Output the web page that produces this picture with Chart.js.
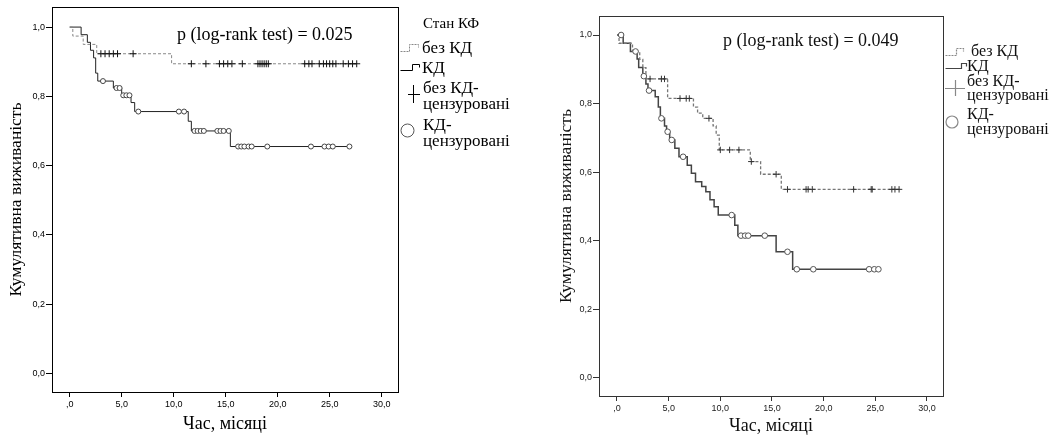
<!DOCTYPE html>
<html><head><meta charset="utf-8">
<script src="https://cdn.jsdelivr.net/npm/chart.js@4.4.1/dist/chart.umd.min.js"></script>
<style>
html,body{margin:0;padding:0;background:#fff;}
body{width:1060px;height:435px;position:relative;overflow:hidden;font-family:"Liberation Serif","Times New Roman",serif;color:#000;}
.cv{position:absolute;top:0;height:435px;}
#w1{left:0;width:540px;}
#w2{left:540px;width:520px;}
.t{position:absolute;white-space:nowrap;line-height:18px;height:18px;}
svg{position:absolute;left:0;top:0;pointer-events:none;}
</style></head><body>
<div id="w1" class="cv"><canvas id="c1" width="540" height="435"></canvas></div>
<div id="w2" class="cv"><canvas id="c2" width="520" height="435"></canvas></div>

<div class="t" style="left:177px;top:25px;font-size:18px;">p (log-rank test) = 0.025</div>
<div class="t" style="left:723px;top:31px;font-size:18px;color:#111;">p (log-rank test) = 0.049</div>

<div class="t" style="left:423px;top:14px;font-size:15px;">Стан КФ</div>
<div class="t" style="left:422px;top:39px;font-size:17px;">без КД</div>
<div class="t" style="left:422px;top:59px;font-size:17px;">КД</div>
<div class="t" style="left:423px;top:79px;font-size:17px;">без КД-</div>
<div class="t" style="left:423px;top:95px;font-size:17px;">цензуровані</div>
<div class="t" style="left:423px;top:116px;font-size:17px;">КД-</div>
<div class="t" style="left:423px;top:132px;font-size:17px;">цензуровані</div>

<div class="t" style="left:971px;top:42px;font-size:16px;color:#111;">без КД</div>
<div class="t" style="left:967px;top:57px;font-size:16px;color:#111;">КД</div>
<div class="t" style="left:967px;top:72px;font-size:16px;color:#111;">без КД-</div>
<div class="t" style="left:967px;top:86px;font-size:16px;color:#111;">цензуровані</div>
<div class="t" style="left:967px;top:105px;font-size:16px;color:#111;">КД-</div>
<div class="t" style="left:967px;top:120px;font-size:16px;color:#111;">цензуровані</div>

<svg width="1060" height="435" xmlns="http://www.w3.org/2000/svg">
  <path d="M400.5,51.5 H409.5 V44.5 H418.5 V47.5" fill="none" stroke="#888" stroke-width="1" stroke-dasharray="2,1"/>
  <path d="M400.5,70.5 H412.5 V64.5 H419.5 V67.5" fill="none" stroke="#000" stroke-width="1"/>
  <path d="M408,94.5 H420 M413.5,85 V103" fill="none" stroke="#000" stroke-width="1"/>
  <circle cx="407.5" cy="130.5" r="6.5" fill="#fff" stroke="#555" stroke-width="1"/>

  <path d="M945.5,55.5 H956.5 V48.5 H963.5 V51.5" fill="none" stroke="#888" stroke-width="1.2" stroke-dasharray="2,1"/>
  <path d="M945.5,68.5 H961.5 V63.5 H966.5 V66.5" fill="none" stroke="#444" stroke-width="1.2"/>
  <path d="M945,88.5 H965 M955.5,80 V96" fill="none" stroke="#888" stroke-width="1.2"/>
  <circle cx="952" cy="122" r="6" fill="#fff" stroke="#888" stroke-width="1.2"/>
</svg>

<script>
// ---------- data ----------
const xTicks = [0, 5, 10, 15, 20, 25, 30];
const xTickLabels = [',0', '5,0', '10,0', '15,0', '20,0', '25,0', '30,0'];
const yTicks = [0, 0.2, 0.4, 0.6, 0.8, 1.0];
const yTickLabels = ['0,0', '0,2', '0,4', '0,6', '0,8', '1,0'];
const xTitle = 'Час, місяці';
const yTitle = 'Кумулятивна виживаність';

// Left chart: без КД (dashed)
const leftNoKdTimes = [0, 0.3, 1.3, 2.6, 9.8, 27.6];
const leftNoKdSurv  = [1.0, 0.974, 0.95, 0.923, 0.894, 0.894];
const leftNoKdCensored = [3.0, 3.4, 3.8, 4.2, 4.6, 6.1, 11.7, 13.1, 14.4, 14.8, 15.2, 15.6, 16.6,
  18.1, 18.3, 18.5, 18.7, 18.9, 19.1, 22.6, 23.0, 23.3, 24.0, 24.4, 24.7, 25.0, 25.3, 25.6,
  26.3, 26.8, 27.2, 27.6];
// Left chart: КД (solid)
const leftKdTimes = [0, 1.1, 1.7, 2.0, 2.3, 2.5, 2.7, 4.2, 5.0, 5.9, 6.25, 11.4, 11.7, 15.45, 26.9];
const leftKdSurv  = [1.0, 0.978, 0.956, 0.933, 0.911, 0.867, 0.844, 0.824, 0.803, 0.782, 0.756, 0.728, 0.70, 0.655, 0.655];
const leftKdCensored = [3.2, 4.5, 4.8, 5.15, 5.45, 5.75, 6.6, 10.5, 11.0, 12.0, 12.3, 12.6, 12.9,
  14.2, 14.5, 14.8, 15.3, 16.2, 16.5, 16.8, 17.2, 17.5, 19.0, 23.2, 24.5, 24.9, 25.3, 26.9];

// Right chart: без КД (dashed)
const rightNoKdTimes = [0, 0.2, 1.5, 2.2, 2.5, 2.8, 4.9, 7.4, 7.8, 8.3, 9.3, 9.6, 9.9, 12.9, 13.9, 15.9, 27.3];
const rightNoKdSurv  = [1.0, 0.976, 0.952, 0.929, 0.905, 0.872, 0.815, 0.79, 0.772, 0.757, 0.735, 0.708, 0.665, 0.631, 0.594, 0.55, 0.55];
const rightNoKdCensored = [3.2, 4.3, 4.6, 6.1, 6.7, 7.0, 8.9, 10.0, 10.9, 11.8, 13.0, 15.4, 16.5,
  18.3, 18.5, 18.9, 22.9, 24.6, 24.7, 26.6, 26.9, 27.3];
// Right chart: КД (solid)
const rightKdTimes = [0, 0.6, 1.3, 1.95, 2.1, 2.5, 2.8, 3.0, 3.7, 4.0, 4.2, 4.6, 4.8, 5.1, 5.6, 6.0,
  6.8, 7.2, 7.6, 8.2, 8.6, 9.0, 9.4, 9.8, 11.4, 11.7, 15.4, 17.0, 25.3];
const rightKdSurv  = [1.0, 0.976, 0.952, 0.93, 0.905, 0.88, 0.857, 0.838, 0.82, 0.79, 0.757, 0.735, 0.718, 0.694, 0.67, 0.645,
  0.62, 0.597, 0.572, 0.558, 0.543, 0.52, 0.499, 0.475, 0.445, 0.415, 0.368, 0.317, 0.317];
const rightKdCensored = [0.4, 1.8, 2.6, 3.1, 4.3, 4.9, 5.3, 6.4, 11.1, 12.0, 12.4, 12.7, 14.3, 16.5,
  17.4, 19.0, 24.4, 24.9, 25.3];

// ---------- helpers ----------
function stepAt(times, surv, t) {
  let v = surv[0];
  for (let i = 0; i < times.length; i++) if (times[i] <= t) v = surv[i];
  return v;
}
const framePlugin = {
  id: 'frame',
  afterDatasetsDraw(chart, args, opts) {
    const {ctx, chartArea: {left, top, right, bottom}} = chart;
    ctx.save();
    ctx.strokeStyle = opts.color || '#000';
    ctx.lineWidth = opts.width || 1;
    ctx.strokeRect(Math.round(left) + 0.5, Math.round(top) + 0.5, Math.round(right - left), Math.round(bottom - top));
    ctx.restore();
  }
};

function makeChart(id, c) {
  const datasets = [
    { type: 'scatter', data: c.noKdCens.map(t => ({x: t, y: stepAt(c.noKdT, c.noKdS, t)})),
      pointStyle: 'cross', pointRadius: c.crossR, pointBorderWidth: 1, borderColor: c.crossColor,
      backgroundColor: c.crossColor, showLine: false, order: 1 },
    { type: 'scatter', data: c.kdCens.map(t => ({x: t, y: stepAt(c.kdT, c.kdS, t)})),
      pointStyle: 'circle', pointRadius: c.circR, pointBorderWidth: 1, borderColor: c.circColor,
      backgroundColor: '#fff', showLine: false, order: 1 },
    { type: 'line', data: c.noKdT.map((t, i) => ({x: t, y: c.noKdS[i]})), stepped: true,
      borderColor: c.dashColor, borderWidth: c.dashW, borderDash: [3, 2], pointRadius: 0, fill: false, order: 2 },
    { type: 'line', data: c.kdT.map((t, i) => ({x: t, y: c.kdS[i]})), stepped: true,
      borderColor: c.solidColor, borderWidth: c.solidW, pointRadius: 0, fill: false, order: 2 }
  ];
  const tickFont = {family: 'Liberation Sans', size: 9};
  return new Chart(document.getElementById(id), {
    type: 'scatter',
    data: {datasets},
    plugins: [framePlugin],
    options: {
      responsive: false, animation: false, events: [],
      layout: {padding: {left: 0, top: c.top, right: c.right, bottom: 0}},
      plugins: {legend: {display: false}, tooltip: {enabled: false}, frame: {color: c.frameColor}},
      scales: {
        x: {
          type: 'linear', min: c.xmin, max: c.xmax,
          afterBuildTicks: s => { s.ticks = xTicks.map(v => ({value: v})); },
          afterFit: s => { s.height = c.xh; },
          ticks: {callback: (v, i) => xTickLabels[i], font: tickFont, color: c.tickColor, padding: 2, maxRotation: 0, autoSkip: false},
          grid: {display: true, drawOnChartArea: false, drawTicks: true, tickLength: 5, color: c.frameColor},
          border: {display: false},
          title: {display: true, text: xTitle, font: {family: 'Liberation Serif', size: 18}, color: c.titleColor, padding: {top: 0, bottom: c.xtp}}
        },
        y: {
          type: 'linear', min: c.ymin, max: c.ymax,
          afterBuildTicks: s => { s.ticks = yTicks.map(v => ({value: v})); },
          afterFit: s => { s.width = c.yw; },
          ticks: {callback: (v, i) => yTickLabels[i], font: tickFont, color: c.tickColor, padding: 1, autoSkip: false},
          grid: {display: true, drawOnChartArea: false, drawTicks: true, tickLength: 6, color: c.frameColor},
          border: {display: false},
          title: {display: true, text: yTitle, font: {family: 'Liberation Serif', size: 17.5}, color: c.titleColor, padding: {top: c.ytp, bottom: 0}}
        }
      }
    }
  });
}

makeChart('c1', {
  noKdT: leftNoKdTimes, noKdS: leftNoKdSurv, noKdCens: leftNoKdCensored,
  kdT: leftKdTimes, kdS: leftKdSurv, kdCens: leftKdCensored,
  top: 7, right: 142, xh: 43, yw: 52, xtp: -0.5, ytp: 6,
  xmin: -1.70, xmax: 31.57, ymin: -0.054, ymax: 1.058,
  crossR: 3.5, crossColor: '#111', circR: 2.5, circColor: '#444',
  dashColor: '#888', dashW: 1, solidColor: '#222', solidW: 1,
  frameColor: '#000', tickColor: '#000', titleColor: '#000'
});
makeChart('c2', {
  noKdT: rightNoKdTimes, noKdS: rightNoKdSurv, noKdCens: rightNoKdCensored,
  kdT: rightKdTimes, kdS: rightKdSurv, kdCens: rightKdCensored,
  top: 16, right: 117, xh: 39, yw: 59, xtp: -2, ytp: 16.4,
  xmin: -1.74, xmax: 31.55, ymin: -0.0525, ymax: 1.0554,
  crossR: 3.2, crossColor: '#333', circR: 2.8, circColor: '#555',
  dashColor: '#777', dashW: 1.3, solidColor: '#444', solidW: 1.5,
  frameColor: '#333', tickColor: '#222', titleColor: '#111'
});
</script>
</body></html>
